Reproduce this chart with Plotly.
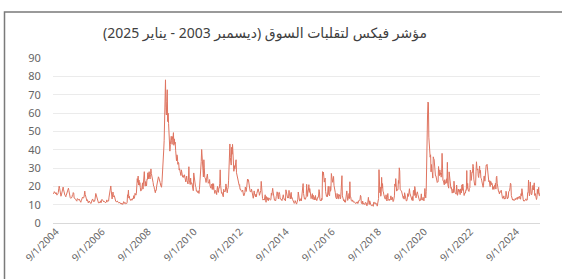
import pandas as pd
import plotly.graph_objects as go

# Weekly VIX closes (approximate)
vix_2003 = [16.4, 16.0, 16.3, 17.1]
vix_2004 = [16.5, 16.2, 15.9, 16.6, 16.1, 15.2, 15.6, 15.9, 16.6, 18.7, 20.1, 19.0, 16.7,
            15.0, 14.6, 15.3, 16.6, 17.6, 18.9, 19.6, 18.1, 16.1, 15.5, 15.1, 15.0, 14.3,
            15.1, 15.8, 16.4, 17.2, 18.4, 19.0, 17.7, 15.6, 15.1, 13.9, 13.5, 13.8, 13.6,
            14.0, 15.3, 15.6, 16.6, 16.3, 13.6, 13.4, 13.5, 13.1, 12.8, 12.2, 11.9, 13.3]
vix_2005 = [13.0, 12.6, 13.1, 12.8, 12.0, 11.6, 11.3, 12.1, 12.6, 13.5, 14.1, 13.6, 14.0,
            13.9, 15.3, 17.4, 15.6, 14.3, 14.9, 13.2, 12.0, 12.7, 11.8, 11.0, 11.5, 12.0,
            11.3, 11.0, 10.8, 10.6, 11.0, 12.3, 12.6, 13.1, 12.0, 11.7, 12.3, 11.8, 12.5,
            14.7, 16.1, 15.3, 14.1, 13.2, 12.0, 11.5, 11.0, 10.9, 11.5, 11.1, 11.2, 12.1]
vix_2006 = [11.1, 11.8, 12.9, 12.5, 12.2, 12.1, 11.5, 11.9, 11.6, 11.2, 11.0, 11.2, 11.4,
            12.6, 11.9, 11.6, 11.7, 12.0, 14.1, 16.3, 16.0, 17.6, 20.2, 17.6, 14.6, 13.1,
            15.3, 16.9, 15.0, 14.2, 14.9, 13.0, 12.4, 12.0, 11.6, 11.5, 11.9, 12.0, 11.4,
            11.4, 11.0, 10.9, 11.3, 10.9, 10.8, 10.7, 10.3, 10.9, 10.6, 10.1, 10.5, 11.6]
vix_2007 = [11.5, 10.8, 10.6, 11.1, 10.5, 10.7, 10.6, 11.2, 15.4, 14.7, 17.9, 13.6, 14.6,
            13.2, 12.7, 12.3, 13.1, 13.0, 12.4, 13.0, 13.4, 13.1, 14.9, 13.4, 14.3, 16.2,
            15.7, 15.2, 16.0, 18.7, 24.2, 22.2, 25.6, 20.7, 23.4, 20.6, 22.0, 19.2, 17.4,
            17.8, 18.0, 20.8, 21.9, 18.5, 22.7, 25.5, 28.0, 22.9, 20.1, 22.6, 21.0, 20.2]
vix_2008 = [23.9, 23.7, 27.4, 24.0, 26.6, 28.0, 25.0, 24.0, 26.5, 29.5, 27.0, 26.0, 25.7,
            23.4, 22.0, 20.1, 20.0, 18.4, 17.7, 16.5, 18.0, 17.8, 20.1, 22.3, 21.4, 23.4,
            25.2, 24.6, 22.6, 22.3, 22.0, 20.7, 19.6, 19.5, 22.1, 25.5, 32.0, 32.8, 39.8,
            45.1, 69.9, 55.0, 78.1, 62.9, 58.9, 66.3, 72.7, 55.3, 59.9, 54.3, 44.9, 43.0]
vix_2009 = [39.2, 42.8, 46.4, 47.3, 44.9, 42.9, 47.1, 46.0, 49.3, 42.4, 45.9, 43.2, 44.1,
            39.7, 36.5, 33.9, 37.2, 36.0, 32.0, 33.1, 32.6, 28.9, 29.6, 28.2, 26.4, 25.9,
            29.0, 26.3, 25.0, 25.0, 25.9, 24.9, 25.0, 26.3, 25.3, 24.1, 22.4, 23.9, 25.6,
            23.1, 21.3, 21.3, 24.0, 30.7, 23.4, 22.7, 21.0, 24.5, 21.2, 22.0, 21.6, 20.0]
vix_2010 = [18.1, 17.6, 27.3, 24.6, 26.1, 22.7, 20.0, 19.5, 17.4, 17.6, 16.9, 16.6, 17.6,
            16.1, 16.1, 18.4, 22.1, 20.2, 28.8, 33.6, 40.1, 32.1, 35.5, 28.8, 25.1, 34.5,
            30.1, 24.9, 24.6, 23.5, 22.1, 24.1, 25.5, 26.7, 23.9, 21.7, 22.0, 21.7, 23.7,
            20.3, 19.1, 19.0, 20.7, 21.2, 18.3, 21.5, 18.4, 21.4, 18.0, 17.6, 16.1, 17.8]
vix_2011 = [17.1, 15.5, 18.5, 20.0, 17.1, 16.7, 19.2, 19.1, 21.7, 29.0, 20.6, 17.4, 16.2,
            16.7, 15.6, 14.8, 14.3, 18.4, 17.1, 17.4, 17.0, 18.0, 21.3, 19.2, 17.0, 16.5,
            18.4, 19.2, 23.0, 32.0, 36.4, 43.1, 35.6, 33.9, 31.6, 41.3, 37.5, 42.9, 36.3,
            31.3, 28.2, 31.3, 29.4, 30.2, 32.8, 34.5, 27.4, 26.4, 24.3, 23.2, 23.2, 20.7]
vix_2012 = [20.6, 20.9, 18.3, 18.5, 17.9, 17.6, 17.1, 17.3, 18.0, 15.1, 15.0, 14.8, 15.5,
            16.7, 19.6, 18.6, 17.2, 19.2, 21.5, 24.0, 22.8, 23.6, 21.2, 18.3, 19.1, 17.1,
            17.1, 17.0, 18.5, 16.7, 15.6, 14.5, 13.5, 15.2, 17.5, 15.8, 14.5, 14.3, 15.7,
            14.3, 16.1, 17.1, 17.8, 18.6, 17.4, 16.9, 15.1, 15.9, 16.6, 17.7, 22.7, 18.0]
vix_2013 = [13.8, 13.4, 12.5, 12.9, 13.0, 12.5, 14.0, 15.4, 13.1, 11.3, 14.4, 12.7, 12.7,
            13.9, 12.1, 13.5, 13.6, 12.9, 12.6, 12.5, 13.0, 16.3, 15.1, 17.0, 18.9, 16.9,
            14.9, 14.4, 12.5, 12.7, 12.0, 12.4, 14.4, 14.8, 17.0, 16.4, 14.2, 13.1, 16.6,
            16.7, 15.7, 13.0, 13.2, 13.1, 12.9, 12.2, 12.8, 13.8, 15.4, 13.8, 12.5, 12.5]
vix_2014 = [12.9, 12.1, 18.1, 17.3, 15.3, 14.3, 13.6, 14.0, 13.6, 17.8, 15.0, 14.4, 13.1,
            15.9, 16.7, 13.4, 13.8, 12.9, 12.4, 12.0, 11.4, 10.7, 11.0, 12.2, 10.9, 11.2,
            10.3, 11.0, 12.1, 13.0, 16.9, 15.8, 13.2, 12.0, 12.1, 12.3, 13.3, 12.1, 15.0,
            14.6, 21.2, 21.5, 16.1, 14.0, 13.1, 13.3, 12.9, 13.3, 14.3, 21.1, 16.5, 14.5]
vix_2015 = [17.8, 17.8, 20.9, 16.7, 18.8, 17.3, 14.3, 13.3, 14.0, 16.0, 16.0, 13.0, 15.1,
            14.7, 12.6, 13.9, 12.6, 15.0, 12.9, 13.0, 12.2, 13.8, 14.0, 13.8, 14.7, 18.2,
            17.0, 13.0, 12.2, 12.6, 12.1, 13.4, 12.8, 28.0, 26.1, 27.8, 23.2, 22.3, 23.6,
            24.5, 17.1, 16.1, 14.5, 15.0, 14.3, 16.4, 20.1, 15.5, 15.1, 14.8, 20.0, 17.3]
vix_2016 = [18.2, 27.0, 24.0, 22.3, 22.2, 23.4, 25.4, 20.5, 19.4, 16.9, 16.5, 14.0, 13.8,
            13.1, 16.1, 13.6, 13.3, 13.2, 15.7, 14.7, 15.2, 13.1, 13.5, 17.0, 19.4, 25.8,
            14.8, 13.2, 12.7, 12.1, 12.7, 11.4, 12.2, 11.3, 13.7, 12.5, 17.5, 15.4, 12.3,
            13.3, 13.5, 16.1, 13.3, 22.5, 14.2, 14.2, 12.4, 12.3, 11.8, 12.6, 11.4, 11.4]
vix_2017 = [11.6, 11.2, 11.5, 10.6, 11.0, 10.9, 11.5, 11.5, 10.6, 11.7, 11.3, 12.5, 12.4,
            12.9, 15.1, 14.6, 10.8, 10.6, 10.4, 12.0, 10.2, 10.8, 10.7, 10.4, 10.0, 11.2,
            11.2, 11.0, 9.5, 9.4, 10.0, 11.1, 14.0, 11.3, 10.1, 12.1, 10.2, 9.6, 9.6,
            9.5, 9.5, 10.0, 9.8, 9.1, 11.3, 11.4, 10.6, 10.7, 11.0, 10.2, 10.3, 10.5]
vix_2018 = [9.2, 10.2, 11.3, 13.3, 29.1, 19.5, 16.5, 19.6, 14.6, 15.8, 24.9, 19.0, 21.5,
            17.4, 16.9, 15.4, 14.8, 13.4, 13.0, 13.2, 15.4, 12.2, 12.0, 13.8, 16.1, 13.4,
            12.7, 12.2, 12.9, 12.5, 13.2, 14.8, 12.6, 12.9, 14.1, 12.0, 11.7, 12.1, 13.0,
            14.8, 21.3, 19.9, 24.2, 19.5, 17.4, 18.1, 18.1, 18.1, 23.2, 21.6, 30.1, 28.3]
vix_2019 = [18.2, 18.2, 17.8, 17.4, 16.1, 15.0, 14.5, 13.5, 14.6, 13.0, 16.5, 15.0, 13.7,
            12.8, 12.0, 12.1, 13.0, 16.0, 15.9, 14.5, 16.9, 18.7, 16.3, 15.3, 15.4, 14.9,
            13.3, 12.4, 14.4, 12.2, 17.6, 17.9, 15.0, 19.9, 18.9, 15.0, 13.7, 15.3, 16.2,
            17.0, 15.6, 14.3, 12.7, 12.1, 12.1, 12.1, 12.3, 13.7, 15.9, 12.6, 12.5, 13.4]
vix_2020 = [14.0, 12.6, 12.1, 14.6, 18.8, 15.5, 13.7, 17.1, 40.1, 41.9, 57.8, 66.0, 65.5,
            46.8, 41.7, 38.2, 35.9, 37.2, 27.9, 31.9, 28.2, 27.5, 24.5, 36.1, 35.1, 34.7,
            30.4, 27.3, 25.7, 25.8, 24.5, 23.0, 22.1, 22.5, 22.5, 30.8, 26.9, 25.8, 29.0,
            26.4, 27.4, 25.0, 27.6, 38.0, 24.9, 23.1, 23.1, 20.8, 20.8, 23.6, 21.6, 21.5]
vix_2021 = [21.6, 24.1, 21.9, 33.1, 20.9, 20.0, 19.0, 27.9, 24.7, 20.7, 20.9, 18.9, 19.4,
            16.9, 16.3, 17.3, 18.6, 16.6, 22.8, 20.2, 16.8, 16.4, 16.0, 15.7, 20.7, 15.6,
            15.1, 16.2, 18.5, 17.2, 18.2, 16.2, 15.5, 18.6, 16.4, 16.4, 20.8, 17.8, 21.2,
            18.8, 16.3, 15.0, 16.3, 16.5, 16.3, 18.1, 17.9, 28.6, 18.8, 21.6, 18.0, 17.7, 17.2]
vix_2022 = [18.8, 19.2, 28.9, 27.7, 23.2, 27.4, 27.8, 27.6, 32.0, 30.8, 23.9, 20.8, 20.6,
            21.2, 20.6, 28.2, 33.4, 30.2, 28.9, 29.4, 25.7, 24.8, 27.8, 31.1, 27.2, 28.7,
            24.6, 24.2, 23.0, 21.4, 21.2, 19.5, 20.6, 25.6, 25.5, 22.8, 26.3, 29.9, 31.6,
            31.4, 32.0, 29.7, 25.8, 24.6, 22.5, 23.1, 20.5, 19.8, 22.8, 22.6, 20.9, 21.7]
vix_2023 = [21.1, 18.3, 19.9, 18.5, 18.3, 20.5, 20.0, 21.7, 18.5, 24.8, 25.5, 21.7, 18.7,
            18.4, 17.1, 17.1, 15.8, 17.2, 16.9, 16.8, 17.9, 14.6, 13.8, 13.5, 13.4, 13.6,
            14.8, 13.0, 13.6, 13.3, 13.3, 17.3, 15.7, 15.7, 13.1, 14.0, 13.8, 17.2, 17.3,
            17.5, 19.3, 21.7, 21.3, 14.9, 14.2, 13.8, 12.5, 13.0, 12.4, 12.3, 12.5, 12.5]
vix_2024 = [13.4, 12.7, 13.3, 13.3, 13.9, 12.9, 14.2, 13.8, 13.4, 14.7, 14.4, 13.1, 13.0,
            16.0, 14.9, 18.7, 15.0, 13.5, 12.6, 12.0, 12.0, 12.2, 12.2, 12.7, 13.2, 12.4,
            12.5, 12.5, 16.5, 16.4, 23.4, 20.4, 14.8, 15.9, 22.4, 16.6, 16.2, 15.4, 16.4,
            19.2, 20.5, 18.0, 20.3, 21.9, 15.0, 16.1, 15.2, 13.5, 12.8, 13.8, 18.4, 15.9]
vix_2025 = [16.1, 19.5, 15.0, 14.9, 16.4]

year_series = [
    ("2003-12-05", vix_2003), ("2004-01-02", vix_2004), ("2005-01-07", vix_2005),
    ("2006-01-06", vix_2006), ("2007-01-05", vix_2007), ("2008-01-04", vix_2008),
    ("2009-01-02", vix_2009), ("2010-01-01", vix_2010), ("2011-01-07", vix_2011),
    ("2012-01-06", vix_2012), ("2013-01-04", vix_2013), ("2014-01-03", vix_2014),
    ("2015-01-02", vix_2015), ("2016-01-01", vix_2016), ("2017-01-06", vix_2017),
    ("2018-01-05", vix_2018), ("2019-01-04", vix_2019), ("2020-01-03", vix_2020),
    ("2021-01-01", vix_2021), ("2022-01-07", vix_2022), ("2023-01-06", vix_2023),
    ("2024-01-05", vix_2024), ("2025-01-03", vix_2025),
]

dates, values = [], []
for start, vals in year_series:
    d = pd.date_range(start, periods=len(vals), freq="7D")
    dates.extend(d)
    values.extend(vals)

tick_labels = ["9/1/2004", "9/1/2006", "9/1/2008", "9/1/2010", "9/1/2012", "9/1/2014",
               "9/1/2016", "9/1/2018", "9/1/2020", "9/1/2022", "9/1/2024"]
tick_positions = ["2004-01-20", "2006-01-20", "2008-01-20", "2010-01-20", "2012-01-20",
                  "2014-01-20", "2016-01-20", "2018-01-20", "2020-01-20", "2022-01-20",
                  "2024-01-20"]

title = "\u200fمؤشر فيكس لتقلبات السوق (ديسمبر 2003 - يناير 2025)\u200f"

fig = go.Figure()
fig.add_trace(go.Scatter(x=dates, y=values, mode="lines",
                         line=dict(color="#df7460", width=1), hoverinfo="x+y"))

L, R, T, B = 53, 22, 58, 56
W, H = 562, 279
pw, ph = W - L - R, H - T - B

fig.add_shape(type="rect", xref="paper", yref="paper",
              x0=(4.5 - L) / pw, x1=(620 - L) / pw,
              y0=(H - B - 340) / ph, y1=(H - B - 12) / ph,
              line=dict(color="#7a7a7a", width=1.5), fillcolor="rgba(0,0,0,0)", layer="below")

fig.update_layout(
    width=W, height=H,
    margin=dict(l=L, r=R, t=T, b=B),
    paper_bgcolor="white", plot_bgcolor="white",
    showlegend=False,
    font=dict(family="Noto Sans, DejaVu Sans, sans-serif", color="#666666"),
    title=dict(text=title, x=265 / W, xanchor="center", y=1 - 33 / H, yanchor="middle",
               xref="container", yref="container",
               font=dict(size=14, color="#404040", family="Noto Sans, DejaVu Sans, sans-serif")),
)
fig.update_yaxes(range=[0, 90], dtick=10, showgrid=True, gridcolor="#ebebeb", gridwidth=1,
                 zeroline=True, zerolinecolor="#d9d9d9", zerolinewidth=1, showline=False,
                 ticks="outside", ticklen=9, tickcolor="rgba(0,0,0,0)",
                 tickfont=dict(size=11, color="#666666"), fixedrange=True)
fig.update_xaxes(type="date", range=[dates[0], dates[-1]], tickmode="array",
                 tickvals=tick_positions, ticktext=tick_labels, tickangle=-45,
                 showgrid=False, zeroline=False, showline=False, ticks="",
                 tickfont=dict(size=10, color="#666666"), fixedrange=True)

fig.write_html("out.html", config={"displayModeBar": False},
               post_script="document.body.style.margin='0';")
